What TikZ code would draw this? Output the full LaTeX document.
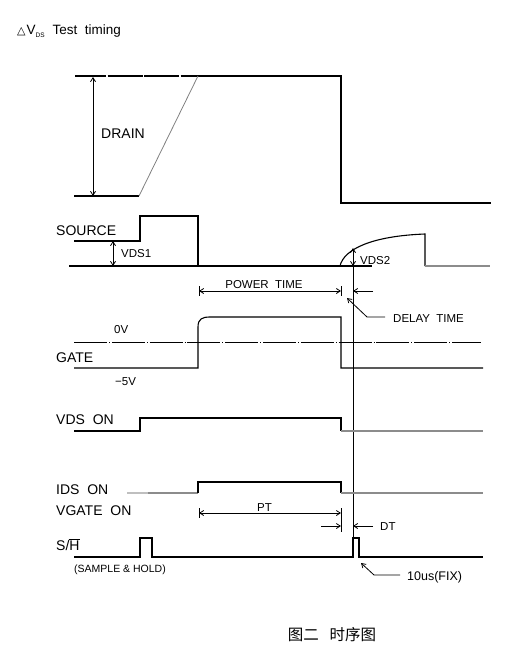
\documentclass[tikz,border=0pt]{standalone}
\usepackage{fontspec}
\setmainfont{Liberation Sans}
\newfontfamily\cjk{Noto Sans CJK SC}
\newfontfamily\dejavu{DejaVu Sans}
\usetikzlibrary{arrows.meta}
\begin{document}
\begin{tikzpicture}[x=1pt,y=-1pt,
  sig/.style={line width=1.1pt, line join=miter},
  gry/.style={line width=1.1pt, draw=black!45},
  dim/.style={line width=0.8pt},
  tipend/.style={-{Straight Barb[length=4pt,width=5pt]}},
  tipboth/.style={{Straight Barb[length=4pt,width=5pt]}-{Straight Barb[length=4pt,width=5pt]}},
  big/.style={font=\fontsize{14}{16}\selectfont, inner sep=0pt, anchor=base west},
  mid/.style={font=\fontsize{11.5}{13}\selectfont, inner sep=0pt, anchor=base west},
  small/.style={font=\fontsize{10.5}{12}\selectfont, inner sep=0pt, anchor=base west}]
\useasboundingbox (0,0) rectangle (509,658);
% title
\node[anchor=base west, inner sep=0pt, font=\fontsize{13.5}{15}\selectfont] (title) at (17,35)
  {{\dejavu\fontsize{11}{12}\selectfont △}\kern1pt V\textsubscript{\fontsize{6.5}{7}\selectfont DS}\ \ Test\ \ timing};
% DRAIN
\draw[sig] (198,76) -- (341,76) -- (341,203) -- (491,203);
\draw[line width=2.4pt, dash pattern=on 35pt off 1.5pt, dash phase=4pt] (75,76) -- (198,76);
\draw[sig] (74,196) -- (139,196);
\draw[line width=0.8pt, draw=black!50] (139,196) -- (198,76);
\draw[dim, tipboth] (93,77) -- (93,196);
\node[big] (drain) at (101,139) {DRAIN};
% SOURCE
\draw[sig] (74,241) -- (140,241) -- (140,216) -- (198,216) -- (198,266);
\draw[sig] (69,266) -- (372,266);
\draw[sig] (340,266) .. controls (344,249) and (372,236) .. (425,234) -- (425,266);
\draw[gry] (425,266) -- (490,266);
\draw[dim, tipboth] (113,241) -- (113,266);
\node[big] (source) at (56,235) {SOURCE};
\node[mid] (vds1) at (121,257) {VDS1};
\draw[dim, tipboth] (353,248) -- (353,266);
\draw[dim] (353,266) -- (353,538);
\node[mid] (vds2) at (360,264) {VDS2};
% POWER TIME
\draw[dim, tipboth] (199,291) -- (341,291);
\draw[dim] (199,286) -- (199,296);
\draw[dim] (341,286) -- (341,296);
\draw[dim, tipend] (373,291) -- (353,291);
\node[mid, anchor=base] (pwr) at (264,288) {POWER\ \ TIME};
\draw[dim, tipend] (385,317) -- (367,317) -- (347,298);
\node[mid] (delay) at (393,322) {DELAY\ \ TIME};
% GATE
\draw[sig] (74,368) -- (198,368) -- (198,327) .. controls (198,319) and (202,317) .. (210,317) -- (341,317) -- (341,368) -- (483,368);
\draw[line width=0.9pt, dash pattern=on 33pt off 2pt on 0.8pt off 2pt] (74,342) -- (481,342);
\node[mid] (zv) at (114,333) {0V};
\node[big] (gate) at (56,362) {GATE};
\node[mid] (m5v) at (115,385) {−5V};
% VDS ON
\draw[sig] (74,431) -- (140,431) -- (140,418) -- (341,418) -- (341,431);
\draw[gry] (341,431) -- (483,431);
\node[big] (vdson) at (56,424) {VDS\ \ ON};
% IDS ON
\draw[line width=1.1pt, draw=black!25] (127,493) -- (148,493);
\draw[gry] (148,493) -- (198,493);
\draw[sig] (198,493) -- (198,482) -- (341,482) -- (341,493);
\draw[gry] (341,493) -- (483,493);
\node[big] (idson) at (56,494) {IDS\ \ ON};
\node[big] (vgate) at (56,515) {VGATE\ \ ON};
% PT / DT
\draw[dim, tipboth] (199,513) -- (341,513);
\draw[dim] (199,508) -- (199,518);
\draw[dim] (341,508) -- (341,532);
\node[mid] (pt) at (257,511) {PT};
\draw[dim, tipend] (321,526) -- (341,526);
\draw[dim, tipend] (373,526) -- (353,526);
\node[mid] (dt) at (380,530) {DT};
% S/H
\draw[sig] (74,557) -- (140,557) -- (140,538) -- (152,538) -- (152,557) -- (353,557) -- (353,538) -- (359,538) -- (359,557) -- (483,557);
\node[big] (sh) at (56,550) {S/$\overline{\mbox{H}}$};
\node[small] (samp) at (74,572) {(SAMPLE \& HOLD)};
\draw[dim, tipend] (400,575) -- (374,575) -- (361,563);
\node[mid, font=\fontsize{12.5}{14}\selectfont] (fix) at (407,580) {10us(FIX)};
% caption
\node[font=\cjk\fontsize{15.5}{17}\selectfont, inner sep=0pt] (cap) at (332,635) {图二\hspace{11pt}时序图};
\end{tikzpicture}
\end{document}
